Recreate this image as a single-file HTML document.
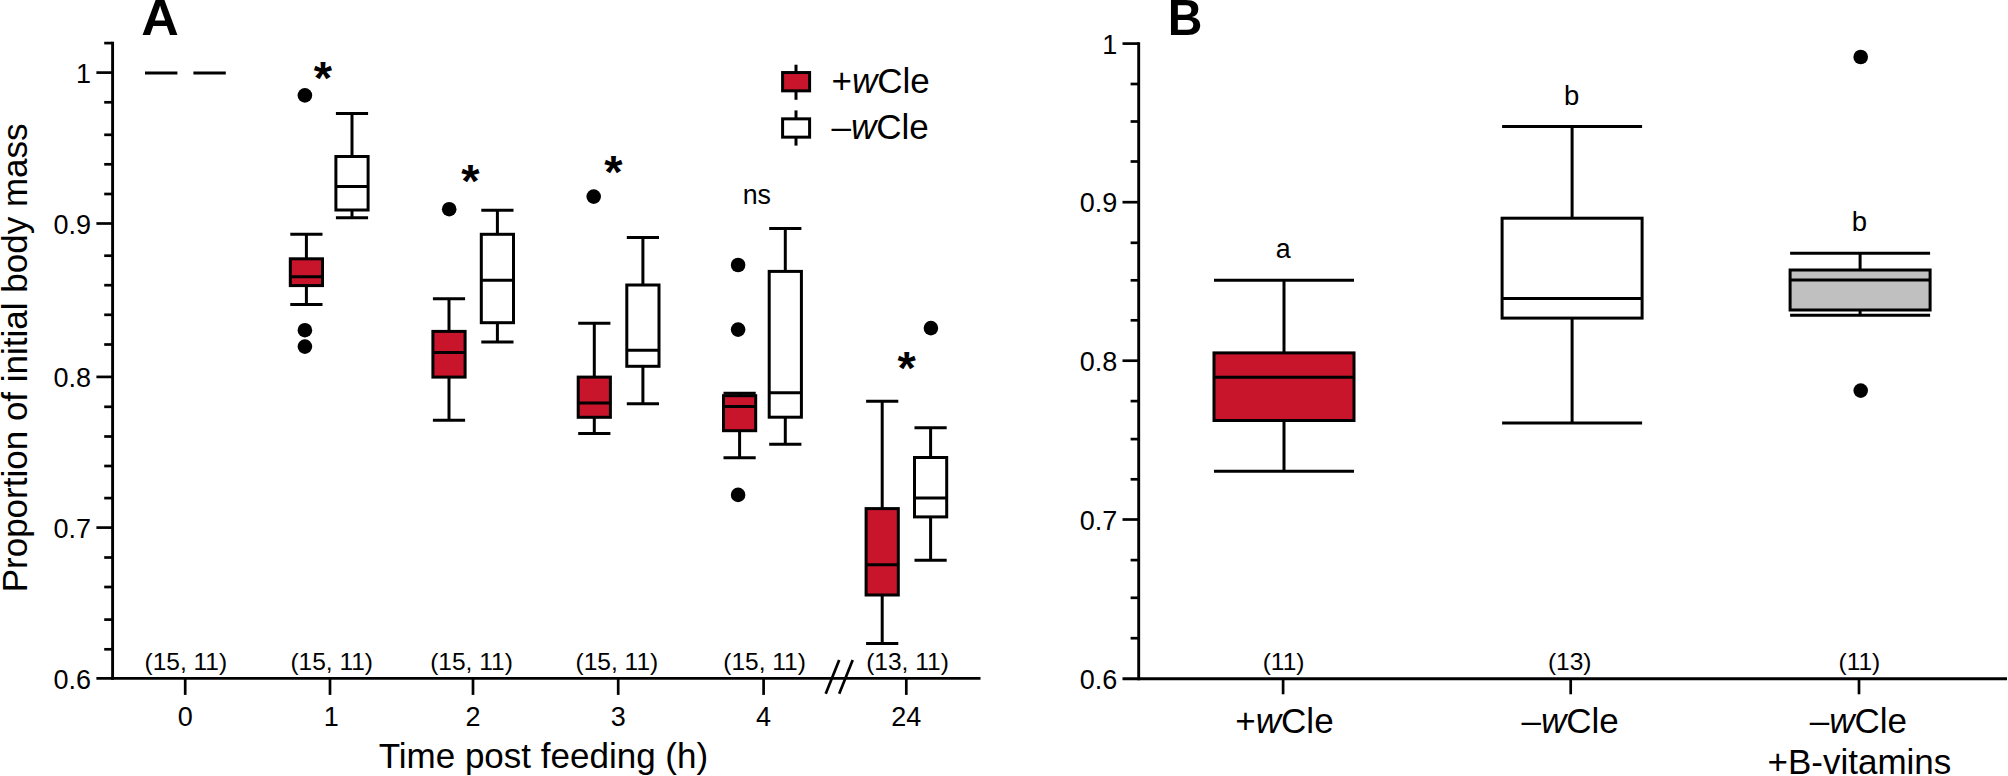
<!DOCTYPE html>
<html lang="en"><head><meta charset="utf-8"><title>Figure</title>
<style>
html,body{margin:0;padding:0;background:#fff;}
body{width:2008px;height:776px;overflow:hidden;}
svg{display:block;}
svg text{font-family:"Liberation Sans",sans-serif;fill:#000;}
</style></head><body>
<svg width="2008" height="776" viewBox="0 0 2008 776">
<rect x="0" y="0" width="2008" height="776" fill="#fff"/>
<line x1="112.60" y1="41.75" x2="112.60" y2="679.85" stroke="#000" stroke-width="2.9" />
<line x1="96.40" y1="678.40" x2="980.50" y2="678.40" stroke="#000" stroke-width="2.9" />
<line x1="104.20" y1="43.10" x2="112.60" y2="43.10" stroke="#000" stroke-width="2.7" />
<line x1="96.40" y1="72.60" x2="112.60" y2="72.60" stroke="#000" stroke-width="2.7" />
<line x1="104.20" y1="102.30" x2="112.60" y2="102.30" stroke="#000" stroke-width="2.7" />
<line x1="104.20" y1="134.80" x2="112.60" y2="134.80" stroke="#000" stroke-width="2.7" />
<line x1="104.20" y1="164.30" x2="112.60" y2="164.30" stroke="#000" stroke-width="2.7" />
<line x1="104.20" y1="194.00" x2="112.60" y2="194.00" stroke="#000" stroke-width="2.7" />
<line x1="96.40" y1="223.50" x2="112.60" y2="223.50" stroke="#000" stroke-width="2.7" />
<line x1="104.20" y1="255.70" x2="112.60" y2="255.70" stroke="#000" stroke-width="2.7" />
<line x1="104.20" y1="285.20" x2="112.60" y2="285.20" stroke="#000" stroke-width="2.7" />
<line x1="104.20" y1="314.80" x2="112.60" y2="314.80" stroke="#000" stroke-width="2.7" />
<line x1="104.20" y1="344.50" x2="112.60" y2="344.50" stroke="#000" stroke-width="2.7" />
<line x1="96.40" y1="376.90" x2="112.60" y2="376.90" stroke="#000" stroke-width="2.7" />
<line x1="104.20" y1="406.80" x2="112.60" y2="406.80" stroke="#000" stroke-width="2.7" />
<line x1="104.20" y1="436.50" x2="112.60" y2="436.50" stroke="#000" stroke-width="2.7" />
<line x1="104.20" y1="466.00" x2="112.60" y2="466.00" stroke="#000" stroke-width="2.7" />
<line x1="104.20" y1="498.10" x2="112.60" y2="498.10" stroke="#000" stroke-width="2.7" />
<line x1="96.40" y1="527.60" x2="112.60" y2="527.60" stroke="#000" stroke-width="2.7" />
<line x1="104.20" y1="557.50" x2="112.60" y2="557.50" stroke="#000" stroke-width="2.7" />
<line x1="104.20" y1="587.00" x2="112.60" y2="587.00" stroke="#000" stroke-width="2.7" />
<line x1="104.20" y1="619.60" x2="112.60" y2="619.60" stroke="#000" stroke-width="2.7" />
<line x1="104.20" y1="649.30" x2="112.60" y2="649.30" stroke="#000" stroke-width="2.7" />
<text x="91.00" y="82.70" font-size="27" text-anchor="end" font-weight="normal" >1</text>
<text x="91.00" y="233.60" font-size="27" text-anchor="end" font-weight="normal" >0.9</text>
<text x="91.00" y="387.00" font-size="27" text-anchor="end" font-weight="normal" >0.8</text>
<text x="91.00" y="537.70" font-size="27" text-anchor="end" font-weight="normal" >0.7</text>
<text x="91.00" y="688.50" font-size="27" text-anchor="end" font-weight="normal" >0.6</text>
<line x1="185.20" y1="678.40" x2="185.20" y2="694.90" stroke="#000" stroke-width="2.7" />
<text x="185.20" y="726.00" font-size="27" text-anchor="middle" font-weight="normal" >0</text>
<line x1="330.00" y1="678.40" x2="330.00" y2="694.90" stroke="#000" stroke-width="2.7" />
<text x="331.30" y="726.00" font-size="27" text-anchor="middle" font-weight="normal" >1</text>
<line x1="473.00" y1="678.40" x2="473.00" y2="694.90" stroke="#000" stroke-width="2.7" />
<text x="473.00" y="726.00" font-size="27" text-anchor="middle" font-weight="normal" >2</text>
<line x1="618.20" y1="678.40" x2="618.20" y2="694.90" stroke="#000" stroke-width="2.7" />
<text x="618.20" y="726.00" font-size="27" text-anchor="middle" font-weight="normal" >3</text>
<line x1="763.60" y1="678.40" x2="763.60" y2="694.90" stroke="#000" stroke-width="2.7" />
<text x="763.60" y="726.00" font-size="27" text-anchor="middle" font-weight="normal" >4</text>
<line x1="906.30" y1="678.40" x2="906.30" y2="694.90" stroke="#000" stroke-width="2.7" />
<text x="906.30" y="726.00" font-size="27" text-anchor="middle" font-weight="normal" >24</text>
<line x1="825.70" y1="693.80" x2="839.20" y2="659.90" stroke="#000" stroke-width="2.7" />
<line x1="839.20" y1="693.80" x2="852.70" y2="659.90" stroke="#000" stroke-width="2.7" />
<text x="185.80" y="670.00" font-size="24.5" text-anchor="middle" font-weight="normal" >(15, 11)</text>
<text x="331.70" y="670.00" font-size="24.5" text-anchor="middle" font-weight="normal" >(15, 11)</text>
<text x="471.50" y="670.00" font-size="24.5" text-anchor="middle" font-weight="normal" >(15, 11)</text>
<text x="616.90" y="670.00" font-size="24.5" text-anchor="middle" font-weight="normal" >(15, 11)</text>
<text x="764.60" y="670.00" font-size="24.5" text-anchor="middle" font-weight="normal" >(15, 11)</text>
<text x="907.50" y="670.00" font-size="24.5" text-anchor="middle" font-weight="normal" >(13, 11)</text>
<text x="543.40" y="767.60" font-size="35" text-anchor="middle" font-weight="normal" >Time post feeding (h)</text>
<text transform="translate(26.5,357.9) rotate(-90)" font-size="35" text-anchor="middle">Proportion of initial body mass</text>
<text transform="translate(160.05,35.3) scale(1.04,1)" font-size="50" text-anchor="middle" font-weight="bold">A</text>
<line x1="145.00" y1="73.00" x2="177.40" y2="73.00" stroke="#000" stroke-width="3.0" />
<line x1="193.40" y1="73.00" x2="225.80" y2="73.00" stroke="#000" stroke-width="3.0" />
<line x1="306.40" y1="234.30" x2="306.40" y2="258.80" stroke="#000" stroke-width="3.0" />
<line x1="306.40" y1="285.60" x2="306.40" y2="304.40" stroke="#000" stroke-width="3.0" />
<line x1="290.30" y1="234.30" x2="322.50" y2="234.30" stroke="#000" stroke-width="3.0" />
<line x1="290.30" y1="304.40" x2="322.50" y2="304.40" stroke="#000" stroke-width="3.0" />
<rect x="290.30" y="258.80" width="32.20" height="26.80" fill="#c8152b" stroke="#000" stroke-width="3.0"/>
<line x1="290.30" y1="276.80" x2="322.50" y2="276.80" stroke="#000" stroke-width="3.0" />
<line x1="352.00" y1="113.50" x2="352.00" y2="156.50" stroke="#000" stroke-width="3.0" />
<line x1="352.00" y1="210.00" x2="352.00" y2="217.80" stroke="#000" stroke-width="3.0" />
<line x1="335.90" y1="113.50" x2="368.10" y2="113.50" stroke="#000" stroke-width="3.0" />
<line x1="335.90" y1="217.80" x2="368.10" y2="217.80" stroke="#000" stroke-width="3.0" />
<rect x="335.90" y="156.50" width="32.20" height="53.50" fill="#fff" stroke="#000" stroke-width="3.0"/>
<line x1="335.90" y1="186.40" x2="368.10" y2="186.40" stroke="#000" stroke-width="3.0" />
<line x1="449.00" y1="298.70" x2="449.00" y2="331.40" stroke="#000" stroke-width="3.0" />
<line x1="449.00" y1="377.10" x2="449.00" y2="420.20" stroke="#000" stroke-width="3.0" />
<line x1="432.90" y1="298.70" x2="465.10" y2="298.70" stroke="#000" stroke-width="3.0" />
<line x1="432.90" y1="420.20" x2="465.10" y2="420.20" stroke="#000" stroke-width="3.0" />
<rect x="432.90" y="331.40" width="32.20" height="45.70" fill="#c8152b" stroke="#000" stroke-width="3.0"/>
<line x1="432.90" y1="352.50" x2="465.10" y2="352.50" stroke="#000" stroke-width="3.0" />
<line x1="497.40" y1="210.30" x2="497.40" y2="234.30" stroke="#000" stroke-width="3.0" />
<line x1="497.40" y1="322.70" x2="497.40" y2="342.00" stroke="#000" stroke-width="3.0" />
<line x1="481.30" y1="210.30" x2="513.50" y2="210.30" stroke="#000" stroke-width="3.0" />
<line x1="481.30" y1="342.00" x2="513.50" y2="342.00" stroke="#000" stroke-width="3.0" />
<rect x="481.30" y="234.30" width="32.20" height="88.40" fill="#fff" stroke="#000" stroke-width="3.0"/>
<line x1="481.30" y1="280.20" x2="513.50" y2="280.20" stroke="#000" stroke-width="3.0" />
<line x1="594.30" y1="323.20" x2="594.30" y2="377.10" stroke="#000" stroke-width="3.0" />
<line x1="594.30" y1="417.30" x2="594.30" y2="433.60" stroke="#000" stroke-width="3.0" />
<line x1="578.20" y1="323.20" x2="610.40" y2="323.20" stroke="#000" stroke-width="3.0" />
<line x1="578.20" y1="433.60" x2="610.40" y2="433.60" stroke="#000" stroke-width="3.0" />
<rect x="578.20" y="377.10" width="32.20" height="40.20" fill="#c8152b" stroke="#000" stroke-width="3.0"/>
<line x1="578.20" y1="403.10" x2="610.40" y2="403.10" stroke="#000" stroke-width="3.0" />
<line x1="642.90" y1="237.40" x2="642.90" y2="285.00" stroke="#000" stroke-width="3.0" />
<line x1="642.90" y1="366.30" x2="642.90" y2="403.70" stroke="#000" stroke-width="3.0" />
<line x1="626.80" y1="237.40" x2="659.00" y2="237.40" stroke="#000" stroke-width="3.0" />
<line x1="626.80" y1="403.70" x2="659.00" y2="403.70" stroke="#000" stroke-width="3.0" />
<rect x="626.80" y="285.00" width="32.20" height="81.30" fill="#fff" stroke="#000" stroke-width="3.0"/>
<line x1="626.80" y1="350.30" x2="659.00" y2="350.30" stroke="#000" stroke-width="3.0" />
<line x1="739.60" y1="393.30" x2="739.60" y2="395.70" stroke="#000" stroke-width="3.0" />
<line x1="739.60" y1="430.70" x2="739.60" y2="457.80" stroke="#000" stroke-width="3.0" />
<line x1="723.50" y1="393.30" x2="755.70" y2="393.30" stroke="#000" stroke-width="3.0" />
<line x1="723.50" y1="457.80" x2="755.70" y2="457.80" stroke="#000" stroke-width="3.0" />
<rect x="723.50" y="395.70" width="32.20" height="35.00" fill="#c8152b" stroke="#000" stroke-width="3.0"/>
<line x1="723.50" y1="406.50" x2="755.70" y2="406.50" stroke="#000" stroke-width="3.0" />
<line x1="785.30" y1="228.60" x2="785.30" y2="271.40" stroke="#000" stroke-width="3.0" />
<line x1="785.30" y1="417.20" x2="785.30" y2="444.30" stroke="#000" stroke-width="3.0" />
<line x1="769.20" y1="228.60" x2="801.40" y2="228.60" stroke="#000" stroke-width="3.0" />
<line x1="769.20" y1="444.30" x2="801.40" y2="444.30" stroke="#000" stroke-width="3.0" />
<rect x="769.20" y="271.40" width="32.20" height="145.80" fill="#fff" stroke="#000" stroke-width="3.0"/>
<line x1="769.20" y1="392.80" x2="801.40" y2="392.80" stroke="#000" stroke-width="3.0" />
<line x1="882.20" y1="401.30" x2="882.20" y2="508.60" stroke="#000" stroke-width="3.0" />
<line x1="882.20" y1="595.00" x2="882.20" y2="643.40" stroke="#000" stroke-width="3.0" />
<line x1="866.10" y1="401.30" x2="898.30" y2="401.30" stroke="#000" stroke-width="3.0" />
<line x1="866.10" y1="643.40" x2="898.30" y2="643.40" stroke="#000" stroke-width="3.0" />
<rect x="866.10" y="508.60" width="32.20" height="86.40" fill="#c8152b" stroke="#000" stroke-width="3.0"/>
<line x1="866.10" y1="564.80" x2="898.30" y2="564.80" stroke="#000" stroke-width="3.0" />
<line x1="930.60" y1="427.80" x2="930.60" y2="457.50" stroke="#000" stroke-width="3.0" />
<line x1="930.60" y1="516.90" x2="930.60" y2="560.20" stroke="#000" stroke-width="3.0" />
<line x1="914.50" y1="427.80" x2="946.70" y2="427.80" stroke="#000" stroke-width="3.0" />
<line x1="914.50" y1="560.20" x2="946.70" y2="560.20" stroke="#000" stroke-width="3.0" />
<rect x="914.50" y="457.50" width="32.20" height="59.40" fill="#fff" stroke="#000" stroke-width="3.0"/>
<line x1="914.50" y1="498.00" x2="946.70" y2="498.00" stroke="#000" stroke-width="3.0" />
<circle cx="304.90" cy="95.40" r="7.3" fill="#000"/>
<circle cx="304.90" cy="330.20" r="7.3" fill="#000"/>
<circle cx="304.90" cy="346.60" r="7.3" fill="#000"/>
<circle cx="449.20" cy="209.20" r="7.3" fill="#000"/>
<circle cx="593.70" cy="196.60" r="7.3" fill="#000"/>
<circle cx="738.10" cy="265.00" r="7.3" fill="#000"/>
<circle cx="738.10" cy="329.60" r="7.3" fill="#000"/>
<circle cx="738.10" cy="494.90" r="7.3" fill="#000"/>
<circle cx="930.90" cy="328.10" r="7.3" fill="#000"/>
<text x="322.80" y="94.10" font-size="47" text-anchor="middle" font-weight="bold" >*</text>
<text x="470.50" y="196.80" font-size="47" text-anchor="middle" font-weight="bold" >*</text>
<text x="613.30" y="188.30" font-size="47" text-anchor="middle" font-weight="bold" >*</text>
<text x="906.70" y="383.90" font-size="47" text-anchor="middle" font-weight="bold" >*</text>
<text x="756.80" y="204.00" font-size="26.8" text-anchor="middle" font-weight="normal" >ns</text>
<line x1="796.00" y1="64.70" x2="796.00" y2="99.80" stroke="#000" stroke-width="3.0" />
<rect x="782.6" y="72.55" width="27.0" height="18.3" fill="#c8152b" stroke="#000" stroke-width="3.0"/>
<line x1="796.00" y1="110.40" x2="796.00" y2="145.60" stroke="#000" stroke-width="3.0" />
<rect x="782.6" y="118.85" width="27.0" height="18.3" fill="#fff" stroke="#000" stroke-width="3.0"/>
<text x="831.50" y="93.20" font-size="35" text-anchor="start" font-weight="normal" >+<tspan font-style="italic">w</tspan>Cle</text>
<text x="831.50" y="138.80" font-size="35" text-anchor="start" font-weight="normal" >–<tspan font-style="italic">w</tspan>Cle</text>
<line x1="1138.70" y1="42.25" x2="1138.70" y2="680.15" stroke="#000" stroke-width="2.9" />
<line x1="1122.50" y1="678.70" x2="2007.00" y2="678.70" stroke="#000" stroke-width="2.9" />
<line x1="1122.50" y1="43.60" x2="1138.70" y2="43.60" stroke="#000" stroke-width="2.7" />
<line x1="1130.60" y1="84.00" x2="1138.70" y2="84.00" stroke="#000" stroke-width="2.7" />
<line x1="1130.60" y1="121.50" x2="1138.70" y2="121.50" stroke="#000" stroke-width="2.7" />
<line x1="1130.60" y1="161.50" x2="1138.70" y2="161.50" stroke="#000" stroke-width="2.7" />
<line x1="1122.50" y1="202.20" x2="1138.70" y2="202.20" stroke="#000" stroke-width="2.7" />
<line x1="1130.60" y1="242.80" x2="1138.70" y2="242.80" stroke="#000" stroke-width="2.7" />
<line x1="1130.60" y1="280.30" x2="1138.70" y2="280.30" stroke="#000" stroke-width="2.7" />
<line x1="1130.60" y1="320.30" x2="1138.70" y2="320.30" stroke="#000" stroke-width="2.7" />
<line x1="1122.50" y1="360.70" x2="1138.70" y2="360.70" stroke="#000" stroke-width="2.7" />
<line x1="1130.60" y1="401.10" x2="1138.70" y2="401.10" stroke="#000" stroke-width="2.7" />
<line x1="1130.60" y1="439.10" x2="1138.70" y2="439.10" stroke="#000" stroke-width="2.7" />
<line x1="1130.60" y1="479.30" x2="1138.70" y2="479.30" stroke="#000" stroke-width="2.7" />
<line x1="1122.50" y1="519.50" x2="1138.70" y2="519.50" stroke="#000" stroke-width="2.7" />
<line x1="1130.60" y1="560.10" x2="1138.70" y2="560.10" stroke="#000" stroke-width="2.7" />
<line x1="1130.60" y1="597.80" x2="1138.70" y2="597.80" stroke="#000" stroke-width="2.7" />
<line x1="1130.60" y1="638.20" x2="1138.70" y2="638.20" stroke="#000" stroke-width="2.7" />
<text x="1117.40" y="53.70" font-size="27" text-anchor="end" font-weight="normal" >1</text>
<text x="1117.40" y="212.30" font-size="27" text-anchor="end" font-weight="normal" >0.9</text>
<text x="1117.40" y="370.80" font-size="27" text-anchor="end" font-weight="normal" >0.8</text>
<text x="1117.40" y="529.60" font-size="27" text-anchor="end" font-weight="normal" >0.7</text>
<text x="1117.40" y="688.70" font-size="27" text-anchor="end" font-weight="normal" >0.6</text>
<text transform="translate(1185.0,35.3) scale(0.96,1)" font-size="50" text-anchor="middle" font-weight="bold">B</text>
<line x1="1284.00" y1="280.30" x2="1284.00" y2="352.90" stroke="#000" stroke-width="3.0" />
<line x1="1284.00" y1="420.50" x2="1284.00" y2="471.20" stroke="#000" stroke-width="3.0" />
<line x1="1214.00" y1="280.30" x2="1354.00" y2="280.30" stroke="#000" stroke-width="3.0" />
<line x1="1214.00" y1="471.20" x2="1354.00" y2="471.20" stroke="#000" stroke-width="3.0" />
<rect x="1214.00" y="352.90" width="140.00" height="67.60" fill="#c8152b" stroke="#000" stroke-width="3.0"/>
<line x1="1214.00" y1="377.20" x2="1354.00" y2="377.20" stroke="#000" stroke-width="3.0" />
<line x1="1572.10" y1="126.60" x2="1572.10" y2="218.20" stroke="#000" stroke-width="3.0" />
<line x1="1572.10" y1="318.10" x2="1572.10" y2="423.00" stroke="#000" stroke-width="3.0" />
<line x1="1502.10" y1="126.60" x2="1642.10" y2="126.60" stroke="#000" stroke-width="3.0" />
<line x1="1502.10" y1="423.00" x2="1642.10" y2="423.00" stroke="#000" stroke-width="3.0" />
<rect x="1502.10" y="218.20" width="140.00" height="99.90" fill="#fff" stroke="#000" stroke-width="3.0"/>
<line x1="1502.10" y1="298.60" x2="1642.10" y2="298.60" stroke="#000" stroke-width="3.0" />
<line x1="1860.10" y1="253.20" x2="1860.10" y2="270.00" stroke="#000" stroke-width="3.0" />
<line x1="1860.10" y1="310.00" x2="1860.10" y2="315.30" stroke="#000" stroke-width="3.0" />
<line x1="1790.10" y1="253.20" x2="1930.10" y2="253.20" stroke="#000" stroke-width="3.0" />
<line x1="1790.10" y1="315.30" x2="1930.10" y2="315.30" stroke="#000" stroke-width="3.0" />
<rect x="1790.10" y="270.00" width="140.00" height="40.00" fill="#c0c0c0" stroke="#000" stroke-width="3.0"/>
<line x1="1790.10" y1="280.00" x2="1930.10" y2="280.00" stroke="#000" stroke-width="3.0" />
<circle cx="1860.70" cy="57.00" r="7.3" fill="#000"/>
<circle cx="1860.70" cy="390.60" r="7.3" fill="#000"/>
<text x="1283.20" y="258.20" font-size="26.8" text-anchor="middle" font-weight="normal" >a</text>
<text x="1571.70" y="105.40" font-size="27.5" text-anchor="middle" font-weight="normal" >b</text>
<text x="1859.40" y="231.00" font-size="27.5" text-anchor="middle" font-weight="normal" >b</text>
<text x="1283.60" y="669.80" font-size="24.5" text-anchor="middle" font-weight="normal" >(11)</text>
<text x="1569.70" y="669.80" font-size="24.5" text-anchor="middle" font-weight="normal" >(13)</text>
<text x="1859.40" y="669.80" font-size="24.5" text-anchor="middle" font-weight="normal" >(11)</text>
<line x1="1283.10" y1="678.70" x2="1283.10" y2="694.30" stroke="#000" stroke-width="2.7" />
<line x1="1570.70" y1="678.70" x2="1570.70" y2="694.30" stroke="#000" stroke-width="2.7" />
<line x1="1859.00" y1="678.70" x2="1859.00" y2="694.30" stroke="#000" stroke-width="2.7" />
<text x="1284.50" y="733.00" font-size="35" text-anchor="middle" font-weight="normal" >+<tspan font-style="italic">w</tspan>Cle</text>
<text x="1570.10" y="733.00" font-size="35" text-anchor="middle" font-weight="normal" >–<tspan font-style="italic">w</tspan>Cle</text>
<text x="1858.40" y="733.00" font-size="35" text-anchor="middle" font-weight="normal" >–<tspan font-style="italic">w</tspan>Cle</text>
<text x="1859.40" y="774.20" font-size="35" text-anchor="middle" font-weight="normal" >+B-vitamins</text>
</svg>
</body></html>
